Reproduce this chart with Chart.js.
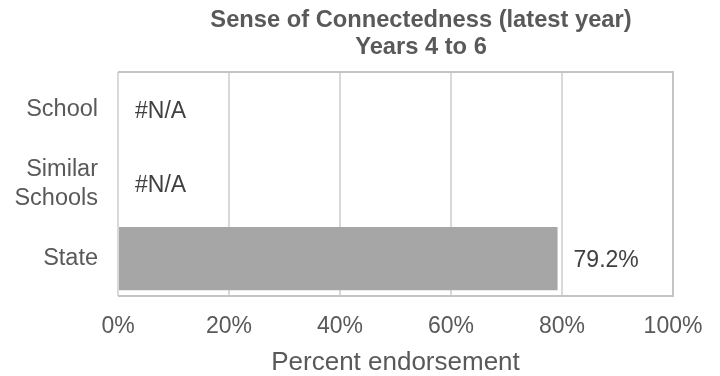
<!DOCTYPE html>
<html>
<head>
<meta charset="utf-8">
<script src="https://cdn.jsdelivr.net/npm/chart.js@4/dist/chart.umd.min.js"></script>
<style>
  html, body { margin: 0; padding: 0; background: #fff; }
  #wrap { width: 720px; height: 376px; }
</style>
</head>
<body>
<div id="wrap"><canvas id="chart"></canvas></div>
<script>
const categories = ['School', ['Similar', 'Schools'], 'State'];
const endorsement = [null, null, 79.2];
const xTickValues = [0, 20, 40, 60, 80, 100];
const titleLines = ['Sense of Connectedness (latest year)', 'Years 4 to 6'];

const FONT = "'Liberation Sans', Arial, sans-serif";
const TEXT = '#595959';

// chart title, drawn by hand so it can sit off the canvas centre
const titlePlugin = {
  id: 'titleText',
  afterDraw(chart) {
    const ctx = chart.ctx;
    ctx.save();
    ctx.font = 'bold 23.7px ' + FONT;
    ctx.fillStyle = TEXT;
    ctx.textAlign = 'center';
    ctx.textBaseline = 'alphabetic';
    ctx.fillText(titleLines[0], 421, 27);
    ctx.fillText(titleLines[1], 421, 54);
    ctx.restore();
  }
};

// plot frame: top, right and bottom edges
const framePlugin = {
  id: 'frame',
  beforeDatasetsDraw(chart) {
    const { ctx, chartArea: a } = chart;
    ctx.save();
    ctx.strokeStyle = '#c4c4c4';
    ctx.lineWidth = 2;
    ctx.beginPath();
    ctx.moveTo(a.left, a.top);
    ctx.lineTo(a.right, a.top);
    ctx.lineTo(a.right, a.bottom);
    ctx.lineTo(a.left, a.bottom);
    ctx.stroke();
    ctx.restore();
  }
};

// value labels next to the bar ends, #N/A where there is no value
const valueLabels = {
  id: 'valueLabels',
  afterDatasetsDraw(chart) {
    const ctx = chart.ctx;
    const meta = chart.getDatasetMeta(0);
    const xs = chart.scales.x;
    const ys = chart.scales.y;
    ctx.save();
    ctx.font = '23px ' + FONT;
    ctx.fillStyle = '#404040';
    ctx.textAlign = 'left';
    ctx.textBaseline = 'middle';
    endorsement.forEach((v, i) => {
      const y = ys.getPixelForValue(i);
      if (v === null) {
        ctx.fillText('#N/A', xs.getPixelForValue(0) + 17, y + 2);
      } else {
        const el = meta.data[i];
        ctx.fillText(v.toFixed(1) + '%', el.x + 16, y + 2);
      }
    });
    ctx.restore();
  }
};

new Chart(document.getElementById('chart'), {
  type: 'bar',
  data: {
    labels: categories,
    datasets: [{
      data: endorsement,
      backgroundColor: '#a6a6a6',
      borderWidth: 0,
      categoryPercentage: 1,
      barPercentage: 0.845
    }]
  },
  options: {
    indexAxis: 'y',
    responsive: true,
    maintainAspectRatio: false,
    animation: false,
    layout: { padding: { top: 72, right: 47, bottom: 0, left: 0 } },
    plugins: {
      legend: { display: false },
      title: { display: false },
      tooltip: { enabled: false }
    },
    scales: {
      x: {
        min: 0,
        max: 100,
        afterBuildTicks(scale) {
          scale.ticks = xTickValues.map(v => ({ value: v }));
        },
        afterFit(scale) { scale.height = 80; },
        grid: { color: '#d9d9d9', lineWidth: 2, drawTicks: false },
        border: { display: false },
        ticks: {
          padding: 17,
          color: TEXT,
          font: { family: FONT, size: 23 },
          maxRotation: 0,
          callback: v => v + '%'
        },
        title: {
          display: true,
          text: 'Percent endorsement',
          color: TEXT,
          font: { family: FONT, size: 26, lineHeight: 1.0 },
          padding: { top: 0, bottom: 0 }
        }
      },
      y: {
        afterFit(scale) { scale.width = 118; },
        grid: { display: false, drawTicks: false },
        border: { display: false },
        ticks: {
          padding: 20,
          color: TEXT,
          font: { family: FONT, size: 23.5, lineHeight: 1.2 }
        }
      }
    }
  },
  plugins: [titlePlugin, framePlugin, valueLabels]
});
</script>
</body>
</html>
